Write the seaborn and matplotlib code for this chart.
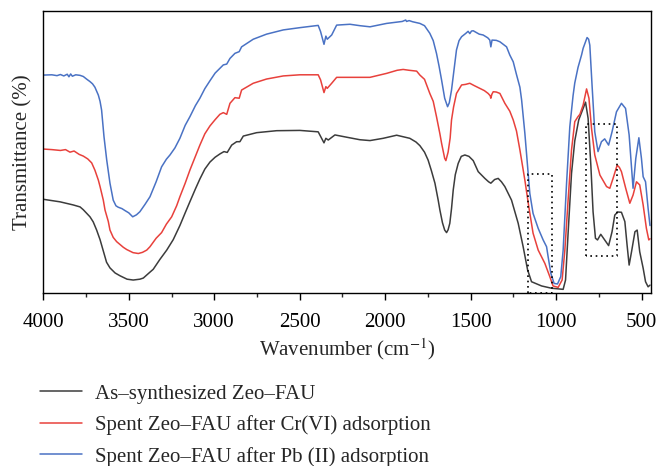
import numpy as np
import pandas as pd
import matplotlib
matplotlib.use("Agg")
import matplotlib.pyplot as plt
from matplotlib.ticker import MultipleLocator
from matplotlib.lines import Line2D
import seaborn as sns

# ---- data (wavenumber cm-1, transmittance %) ----
wn_asyn = [4000, 3902, 3825, 3785, 3766, 3727, 3708, 3688, 3668, 3649, 3630, 3610,
           3580, 3551, 3510, 3474, 3435, 3415, 3376, 3357, 3318, 3278, 3240, 3201,
           3170, 3142, 3110, 3084, 3055, 3025, 2995, 2966, 2943, 2924, 2898, 2869,
           2850, 2830, 2752, 2635, 2499, 2392, 2372, 2358, 2347, 2333, 2294, 2226,
           2148, 2089, 2012, 1933, 1856, 1820, 1797, 1770, 1749, 1730, 1709, 1690,
           1680, 1665, 1652, 1641, 1632, 1622, 1612, 1602, 1590, 1573, 1555, 1534,
           1510, 1485, 1456, 1430, 1417, 1395, 1382, 1360, 1339, 1320, 1300, 1261,
           1222, 1193, 1167, 1144, 1085, 1027, 959, 945, 930, 910, 891, 868, 842,
           828, 813, 797, 784, 770, 758, 739, 716, 693, 673, 657, 640, 618, 598,
           585, 573, 559, 539, 526, 511, 491, 477, 462, 451]
t_asyn = [33.3, 32.4, 31.3, 30.6, 29.6, 27.1, 25.3, 22.4, 19.0, 15.0, 11.0, 9.0,
          7.2, 6.2, 5.0, 4.7, 5.0, 5.4, 7.5, 8.5, 12.0, 15.3, 19.0, 24.0,
          28.5, 32.5, 37.0, 40.5, 44.0, 46.5, 48.2, 49.4, 50.2, 49.9, 52.5, 53.7,
          53.7, 55.7, 56.9, 57.6, 57.7, 57.2, 54.9, 53.3, 54.9, 54.3, 56.1, 55.3,
          54.4, 54.1, 54.9, 56.0, 54.9, 53.6, 52.3, 50.0, 47.2, 43.5, 39.0, 33.0,
          29.5, 25.0, 22.4, 21.5, 22.5, 24.8, 30.0, 36.6, 42.0, 46.0, 48.5, 49.0,
          48.5, 47.0, 43.1, 41.5, 40.7, 39.5, 39.0, 40.3, 40.7, 39.5, 37.8, 33.0,
          24.8, 16.5, 8.3, 4.1, 2.6, 1.8, 1.4, 4.7, 21.3, 42.5, 54.0, 61.4, 65.5,
          67.7, 62.0, 45.4, 28.9, 19.5, 18.9, 20.9, 18.9, 16.9, 21.8, 27.7, 28.8, 28.7, 25.4,
          17.1, 10.0, 14.7, 21.8, 22.4, 14.7, 8.9, 4.1, 2.3, 2.9]

wn_cr = [4000, 3950, 3900, 3870, 3844, 3820, 3790, 3766, 3740, 3717, 3698, 3678,
         3668, 3649, 3639, 3620, 3610, 3591, 3571, 3532, 3512, 3475, 3444, 3420,
         3395, 3376, 3340, 3308, 3280, 3249, 3220, 3201, 3170, 3142, 3110, 3084,
         3055, 3025, 2995, 2967, 2947, 2927, 2908, 2879, 2854, 2840, 2772, 2694,
         2596, 2499, 2392, 2378, 2358, 2347, 2339, 2313, 2284, 2206, 2148, 2089,
         1992, 1930, 1895, 1860, 1816, 1797, 1770, 1739, 1719, 1700, 1680, 1670,
         1652, 1645, 1632, 1620, 1612, 1600, 1583, 1553, 1530, 1505, 1480, 1446,
         1420, 1398, 1386, 1382, 1376, 1368, 1350, 1329, 1300, 1271, 1251, 1232,
         1212, 1183, 1160, 1135, 1105, 1066, 1037, 1018, 988, 965, 949, 930, 910,
         891, 872, 861, 842, 822, 808, 793, 774, 744, 705, 686, 667, 643, 630,
         618, 593, 569, 550, 530, 511, 491, 472, 458, 451]
t_cr = [51.1, 50.9, 50.6, 50.9, 50.0, 50.4, 49.2, 48.6, 47.6, 46.2, 43.6, 40.1,
        37.8, 33.0, 29.5, 25.5, 22.4, 19.8, 18.3, 16.3, 15.5, 14.4, 14.1, 14.5,
        15.3, 16.5, 19.5, 21.5, 24.5, 27.1, 31.0, 34.2, 39.0, 43.7, 48.5, 52.5,
        56.5, 59.3, 61.5, 63.4, 64.0, 63.4, 67.3, 69.3, 69.1, 72.0, 74.4, 75.9,
        77.0, 77.4, 77.4, 75.6, 71.1, 73.2, 72.6, 74.4, 76.5, 76.5, 76.5, 76.5,
        77.9, 79.0, 79.3, 79.0, 78.7, 77.3, 75.8, 70.8, 68.0, 62.6, 56.5, 53.1,
        47.8, 47.0, 50.0, 55.0, 61.4, 66.0, 70.8, 73.8, 74.0, 74.4, 73.6, 72.6,
        71.8, 70.8, 70.0, 69.1, 70.5, 71.4, 71.3, 70.8, 67.3, 64.5, 61.4, 57.5,
        50.8, 40.1, 30.7, 21.3, 15.3, 10.6, 5.9, 2.6, 2.1, 4.7, 15.3, 33.0, 50.8,
        60.8, 62.6, 63.4, 66.7, 72.4, 69.1, 58.4, 49.0, 41.9, 37.8, 37.2, 40.7, 45.4, 44.6,
        43.1, 37.2, 31.9, 34.8, 39.5, 38.4, 31.3, 23.0, 18.9, 19.3]

wn_pb = [4000, 3950, 3920, 3900, 3880, 3860, 3850, 3840, 3830, 3810, 3785, 3766,
         3745, 3727, 3712, 3698, 3678, 3668, 3659, 3645, 3629, 3610, 3591, 3575,
         3562, 3540, 3522, 3500, 3477, 3455, 3435, 3405, 3376, 3340, 3308, 3280,
         3259, 3230, 3201, 3170, 3142, 3110, 3084, 3055, 3025, 2995, 2967, 2947,
         2927, 2908, 2879, 2854, 2840, 2772, 2694, 2596, 2499, 2392, 2378, 2358,
         2347, 2339, 2313, 2284, 2206, 2148, 2089, 1992, 1900, 1880, 1875, 1860,
         1840, 1797, 1770, 1739, 1719, 1700, 1685, 1670, 1652, 1635, 1625, 1612,
         1598, 1583, 1568, 1553, 1530, 1515, 1505, 1495, 1485, 1450, 1427, 1400,
         1388, 1382, 1375, 1350, 1329, 1290, 1271, 1251, 1232, 1212, 1202, 1183,
         1167, 1154, 1135, 1105, 1076, 1056, 1047, 1031, 1012, 992, 973, 959, 939,
         920, 901, 891, 872, 851, 842, 830, 819, 810, 803, 790, 774, 755, 735,
         716, 693, 673, 647, 618, 594, 573, 550, 534, 516, 501, 491, 477, 462, 451]
t_pb = [77.3, 77.4, 77.1, 77.5, 77.0, 77.6, 76.7, 77.7, 76.9, 77.4, 77.2, 76.8,
        75.8, 75.0, 74.2, 73.0, 70.2, 68.0, 64.9, 55.5, 47.2, 39.0, 33.0, 31.0,
        30.5, 30.0, 29.3, 28.5, 27.1, 27.8, 28.9, 31.5, 34.2, 39.5, 44.8, 47.5,
        49.0, 51.5, 54.9, 59.5, 62.6, 66.5, 69.1, 72.5, 75.3, 78.0, 79.7, 80.9,
        81.2, 83.2, 85.0, 85.6, 87.3, 90.0, 91.8, 93.3, 94.1, 94.9, 92.7, 88.2,
        91.1, 90.0, 91.5, 95.0, 95.3, 94.8, 94.4, 95.6, 96.3, 96.8, 96.3, 96.6,
        96.2, 95.6, 94.8, 92.1, 89.5, 85.0, 80.5, 75.5, 69.1, 66.1, 67.5, 72.0,
        79.0, 86.2, 89.5, 90.9, 92.0, 92.8, 92.0, 92.9, 93.0, 91.8, 91.5, 90.5,
        89.7, 87.3, 89.7, 89.6, 89.1, 87.3, 84.4, 82.0, 77.5, 73.0, 68.5, 56.7,
        44.8, 35.4, 28.3, 23.0, 18.9, 16.5, 13.0, 7.1, 3.5, 3.3, 5.9, 15.3, 39.0,
        59.0, 70.0, 74.5, 80.0, 84.5, 86.8, 88.8, 90.6, 90.0, 87.9, 73.8, 57.2, 50.2, 53.7,
        54.7, 52.5, 57.2, 64.3, 67.3, 65.5, 56.1, 37.2, 47.8, 55.1, 47.8, 41.3, 39.5, 30.1, 24.0]

labels = ["As\u2013synthesized Zeo\u2013FAU",
          "Spent Zeo\u2013FAU after Cr(VI) adsorption",
          "Spent Zeo\u2013FAU after Pb (II) adsorption"]
colors = ["#3c3c3c", "#e8413c", "#4a72c4"]

# dotted boxes (wavenumber range, transmittance range)
box_wn = [(1167, 1027), (826, 646)]
box_t = [(0.0, 42.3), (13.3, 59.9)]

# ---- plotting ----
sns.set_style("ticks")
plt.rcParams["font.family"] = ["Liberation Serif", "DejaVu Serif"]
plt.rcParams["mathtext.fontset"] = "stix"

fig = plt.figure(figsize=(6.59, 4.66), dpi=100)
ax = fig.add_axes([43.3 / 659, 1 - 293.3 / 466, (650.5 - 43.3) / 659, (293.3 - 11) / 466])

frames = []
for wn, t, lab in zip([wn_asyn, wn_cr, wn_pb], [t_asyn, t_cr, t_pb], labels):
    frames.append(pd.DataFrame({"wn": wn, "T": t, "sample": lab}))
df = pd.concat(frames, ignore_index=True)

sns.lineplot(data=df, x="wn", y="T", hue="sample", hue_order=labels,
             palette=colors, estimator=None, sort=False, linewidth=1.1, ax=ax,
             legend=False)

for (w1, w2), (t1, t2) in zip(box_wn, box_t):
    ax.plot([w1, w1, w2, w2, w1], [t1, t2, t2, t1, t1], color="black",
            linestyle=(0, (1, 2.2)), linewidth=1.2, clip_on=False)

ax.set_xlim(4000, 448)
ax.set_ylim(0, 100)
ax.xaxis.set_major_locator(MultipleLocator(500))
ax.xaxis.set_minor_locator(MultipleLocator(250))
ax.set_yticks([])
ax.tick_params(axis="x", which="major", direction="out", length=5, width=1,
               labelsize=15, pad=9, colors="black")
ax.tick_params(axis="x", which="minor", direction="out", length=3, width=1)
for s in ax.spines.values():
    s.set_visible(True)
    s.set_color("black")
    s.set_linewidth(1.0)

ax.set_xlabel("Wavenumber (cm$^{\u2212 1}$)", fontsize=15, labelpad=3)
ax.set_ylabel("Transmittance (%)", fontsize=15, labelpad=8)

handles = [Line2D([], [], color=c, linewidth=1.1) for c in colors]
fig.legend(handles, labels, loc="upper left", bbox_to_anchor=(40 / 659, 1 - 384 / 466),
           frameon=False, fontsize=15, handlelength=2.0, handletextpad=0.65,
           labelspacing=0.56, borderpad=0, borderaxespad=0)

fig.savefig("out.png", dpi=100)
